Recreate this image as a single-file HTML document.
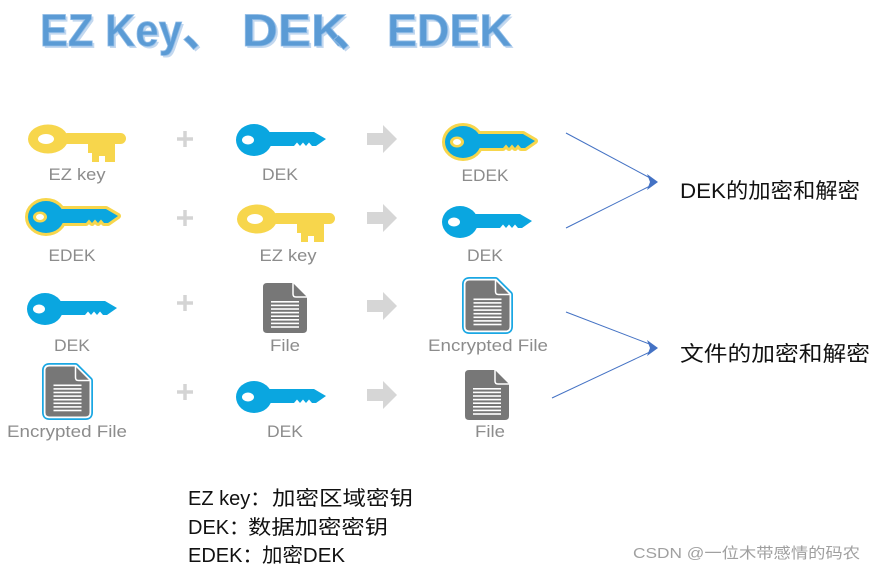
<!DOCTYPE html>
<html><head><meta charset="utf-8"><style>
html,body{margin:0;padding:0;background:#fff;}
svg{display:block;}
.lb{font-family:"Liberation Sans",sans-serif;font-size:17px;fill:#8c8c8c;text-anchor:middle;}
.cj{font-family:"Liberation Sans","Noto Sans CJK SC",sans-serif;fill:#111;}
</style></head><body>
<svg width="876" height="571" viewBox="0 0 876 571" xmlns="http://www.w3.org/2000/svg">
<defs>
  <g id="bk">
    <ellipse cx="18" cy="16" rx="18" ry="16"/>
    <path d="M30,8 L78,8 L90,15 L80,22 L76,22 L73,18.5 L70,22 L67,18.5 L64,22 L61,18.5 L58,22 L30,22 Z"/>
  </g>
  <g id="yk">
    <ellipse cx="20" cy="14" rx="20" ry="14.5" fill="#f7d64c"/>
    <ellipse cx="18" cy="14" rx="8" ry="5" fill="#fff"/>
    <rect x="34" y="8" width="64" height="11" rx="5.5" fill="#f7d64c"/>
    <path d="M60,18 L87,18 L87,37 L77,37 L77,31 L71,31 L71,37 L64,37 L64,28 L60,28 Z" fill="#f7d64c"/>
  </g>
  <path id="fp" d="M4,0 H30 L44,14 V46 Q44,50 40,50 H4 Q0,50 0,46 V4 Q0,0 4,0 Z"/>
  <g id="fl">
    <path d="M30,0 V11 Q30,14 33,14 H44" fill="none" stroke="#fff" stroke-width="1.5"/>
    <g fill="#fff">
      <rect x="8" y="18" width="28" height="1.6"/>
      <rect x="8" y="21.6" width="28" height="1.6"/>
      <rect x="8" y="25.2" width="28" height="1.6"/>
      <rect x="8" y="28.8" width="28" height="1.6"/>
      <rect x="8" y="32.4" width="28" height="1.6"/>
      <rect x="8" y="36" width="28" height="1.6"/>
      <rect x="8" y="39.6" width="28" height="1.6"/>
      <rect x="8" y="43.2" width="28" height="1.6"/>
    </g>
  </g>
  <g id="file">
    <use href="#fp" fill="#777"/>
    <use href="#fl"/>
  </g>
  <g id="efile">
    <use href="#fp" fill="#1aa7e3" stroke="#1aa7e3" stroke-width="7" stroke-linejoin="round"/>
    <use href="#fp" fill="#fff" stroke="#fff" stroke-width="3.5" stroke-linejoin="round"/>
    <use href="#fp" fill="#777"/>
    <use href="#fl"/>
  </g>
  <polygon id="ar" points="0,8 16,8 16,0 30,14 16,28 16,20 0,20" fill="#d6d6d6"/>
  <g id="pl" stroke="#d4d4d4" stroke-width="3.5">
    <line x1="-8" y1="0" x2="8" y2="0"/><line x1="0" y1="-8" x2="0" y2="8"/>
  </g>
  <g id="blue"><use href="#bk" fill="#0aa6e0"/><ellipse cx="12" cy="16" rx="6" ry="4.5" fill="#fff"/></g>
  <g id="edek">
    <use href="#bk" fill="#f7d64c" stroke="#f7d64c" stroke-width="6" stroke-linejoin="round"/>
    <use href="#bk" fill="#0aa6e0"/>
    <ellipse cx="12" cy="16" rx="7" ry="5.5" fill="#f7d64c"/>
    <ellipse cx="12" cy="16" rx="4" ry="3" fill="#fff"/>
  </g>
</defs>

<!-- Title -->
<g font-family="Liberation Sans, Noto Sans CJK SC, sans-serif" font-weight="bold" font-size="45">
  <g fill="#c3d8ef" transform="translate(2,2)">
    <text x="40" y="46" textLength="142" lengthAdjust="spacingAndGlyphs">EZ Key</text>
    <text x="182" y="46" font-family="Noto Sans CJK SC, sans-serif">、</text>
    <text x="242" y="46" textLength="105" lengthAdjust="spacingAndGlyphs">DEK</text>
    <text x="332" y="46" font-family="Noto Sans CJK SC, sans-serif">、</text>
    <text x="387" y="46" textLength="125" lengthAdjust="spacingAndGlyphs">EDEK</text>
  </g>
  <g fill="#5b9bd5" stroke="#8fbbe6" stroke-width="0.8">
    <text x="40" y="46" textLength="142" lengthAdjust="spacingAndGlyphs">EZ Key</text>
    <text x="182" y="46" font-family="Noto Sans CJK SC, sans-serif">、</text>
    <text x="242" y="46" textLength="105" lengthAdjust="spacingAndGlyphs">DEK</text>
    <text x="332" y="46" font-family="Noto Sans CJK SC, sans-serif">、</text>
    <text x="387" y="46" textLength="125" lengthAdjust="spacingAndGlyphs">EDEK</text>
  </g>
</g>

<!-- Row 1 -->
<use href="#yk" x="28" y="125"/>
<use href="#pl" x="185" y="139"/>
<use href="#blue" x="236" y="124"/>
<use href="#ar" x="367" y="125"/>
<use href="#edek" x="445" y="126"/>
<text class="lb" x="77" y="180" textLength="57" lengthAdjust="spacingAndGlyphs">EZ key</text>
<text class="lb" x="280" y="180" textLength="36" lengthAdjust="spacingAndGlyphs">DEK</text>
<text class="lb" x="485" y="181" textLength="47" lengthAdjust="spacingAndGlyphs">EDEK</text>

<!-- Row 2 -->
<use href="#edek" x="28" y="201"/>
<use href="#pl" x="185" y="218"/>
<use href="#yk" x="237" y="205"/>
<use href="#ar" x="367" y="204"/>
<use href="#blue" x="442" y="206"/>
<text class="lb" x="72" y="261" textLength="47" lengthAdjust="spacingAndGlyphs">EDEK</text>
<text class="lb" x="288" y="261" textLength="57" lengthAdjust="spacingAndGlyphs">EZ key</text>
<text class="lb" x="485" y="261" textLength="36" lengthAdjust="spacingAndGlyphs">DEK</text>

<!-- Row 3 -->
<use href="#blue" x="27" y="293"/>
<use href="#pl" x="185" y="303"/>
<use href="#file" x="263" y="283"/>
<use href="#ar" x="367" y="292"/>
<use href="#efile" x="465.5" y="280.5"/>
<text class="lb" x="72" y="351" textLength="36" lengthAdjust="spacingAndGlyphs">DEK</text>
<text class="lb" x="285" y="351" textLength="30" lengthAdjust="spacingAndGlyphs">File</text>
<text class="lb" x="488" y="351" textLength="120" lengthAdjust="spacingAndGlyphs">Encrypted File</text>

<!-- Row 4 -->
<use href="#efile" x="45.5" y="366.5"/>
<use href="#pl" x="185" y="392"/>
<use href="#blue" x="236" y="381"/>
<use href="#ar" x="367" y="381"/>
<use href="#file" x="465" y="370"/>
<text class="lb" x="67" y="437" textLength="120" lengthAdjust="spacingAndGlyphs">Encrypted File</text>
<text class="lb" x="285" y="437" textLength="36" lengthAdjust="spacingAndGlyphs">DEK</text>
<text class="lb" x="490" y="437" textLength="30" lengthAdjust="spacingAndGlyphs">File</text>

<!-- Connectors -->
<g stroke="#4472c4" stroke-width="1" fill="none">
  <line x1="566" y1="133" x2="652" y2="179"/>
  <line x1="566" y1="228" x2="652" y2="185"/>
  <line x1="566" y1="312" x2="652" y2="345"/>
  <line x1="552" y1="398" x2="652" y2="351"/>
</g>
<g fill="#4472c4">
  <polygon points="647,174 658,182 647,190 650,182"/>
  <polygon points="647,340 658,348 647,356 650,348"/>
</g>

<text class="cj" x="680" y="198" font-size="21" textLength="180" lengthAdjust="spacingAndGlyphs">DEK的加密和解密</text>
<text class="cj" x="680" y="361" font-size="21" textLength="190" lengthAdjust="spacingAndGlyphs">文件的加密和解密</text>

<!-- Legend -->
<g class="cj" font-size="20">
  <text x="188" y="505">EZ key：</text>
  <text x="272" y="505" textLength="141" lengthAdjust="spacingAndGlyphs">加密区域密钥</text>
  <text x="188" y="534">DEK：</text>
  <text x="248" y="534" textLength="140" lengthAdjust="spacingAndGlyphs">数据加密密钥</text>
  <text x="188" y="562">EDEK：</text>
  <text x="262" y="562" textLength="83" lengthAdjust="spacingAndGlyphs">加密DEK</text>
</g>

<text x="633" y="558" font-family="Liberation Sans, Noto Sans CJK SC, sans-serif" font-size="15" fill="#a0a0a0" textLength="227" lengthAdjust="spacingAndGlyphs">CSDN @一位木带感情的码农</text>
</svg>
</body></html>
